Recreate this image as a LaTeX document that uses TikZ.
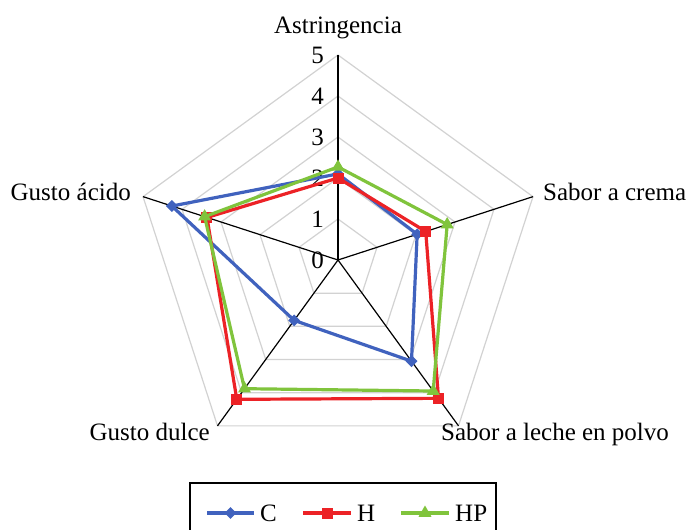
\documentclass[tikz,border=0pt]{standalone}
\usepackage{fontspec}
\setmainfont{Liberation Serif}
\usetikzlibrary{shapes.geometric,calc}
\definecolor{cblue}{RGB}{64,98,190}
\definecolor{hred}{RGB}{236,34,38}
\definecolor{hpgreen}{RGB}{128,196,60}
\definecolor{gridgray}{RGB}{210,210,210}
\tikzset{
  gridring/.style={draw=gridgray, line width=1.2pt},
  axisline/.style={draw=black, line width=1.2pt},
  series/.style={line width=3.2pt, line join=miter},
  cmark/.style={diamond, fill=cblue, inner sep=0pt, minimum size=12pt},
  hmark/.style={rectangle, fill=hred, inner sep=0pt, minimum size=11pt},
  hpmark/.style={regular polygon, regular polygon sides=3, fill=hpgreen, inner sep=0pt, minimum size=15pt},
  lbl/.style={inner sep=0pt},
  tick/.style={inner sep=0pt, anchor=east},
}
\begin{document}
\begin{tikzpicture}[x=1pt,y=1pt,font=\fontsize{25}{30}\selectfont]
\useasboundingbox (0,0) rectangle (697,-530);
\fill[white] (0,0) rectangle (697,-530);
\begin{scope}[shift={(338,-260)}]
  \coordinate (c) at (0,0);
  % grid rings
  \foreach \r in {1,...,5}{
    \draw[gridring] (90:\r*41) -- (18:\r*41) -- (-54:\r*41) -- (-126:\r*41) -- (162:\r*41) -- cycle;
  }
  % axis ends
  \coordinate (a1) at (90:205);
  \coordinate (a2) at (18:205);
  \coordinate (a3) at (-54:205);
  \coordinate (a4) at (-126:205);
  \coordinate (a5) at (162:205);
  \foreach \a in {a1,a2,a3,a4,a5}{\draw[axisline] (c) -- (\a);}
  % tick labels
  \foreach \k in {0,...,5}{\node[tick] (t\k) at (-14,\k*41) {\k};}
  % data C
  \coordinate (c1) at (90:2.1*41);
  \coordinate (c2) at (18:2.03*41);
  \coordinate (c3) at (-54:3.05*41);
  \coordinate (c4) at (-126:1.82*41);
  \coordinate (c5) at (162:4.26*41);
  % data H
  \coordinate (h1) at (90:2.0*41);
  \coordinate (h2) at (18:2.25*41);
  \coordinate (h3) at (-54:4.17*41);
  \coordinate (h4) at (-126:4.2*41);
  \coordinate (h5) at (162:3.36*41);
  % data HP
  \coordinate (p1) at (90:2.27*41);
  \coordinate (p2) at (18:2.8*41);
  \coordinate (p3) at (-54:3.95*41);
  \coordinate (p4) at (-126:3.88*41);
  \coordinate (p5) at (162:3.42*41);
  \draw[series, cblue] (c1) -- (c2) -- (c3) -- (c4) -- (c5) -- cycle;
  \foreach \q in {c1,c2,c3,c4,c5}{\node[cmark] at (\q) {};}
  \draw[series, hred] (h1) -- (h2) -- (h3) -- (h4) -- (h5) -- cycle;
  \foreach \q in {h1,h2,h3,h4,h5}{\node[hmark] at (\q) {};}
  \draw[series, hpgreen] (p1) -- (p2) -- (p3) -- (p4) -- (p5) -- cycle;
  \foreach \q in {p1,p2,p3,p4,p5}{\node[hpmark] at (\q) {};}
\end{scope}
% category labels
\node[lbl, anchor=base] (l1) at (338,-34) {Astringencia};
\node[lbl, anchor=base west] (l2) at (543,-200) {Sabor a crema};
\node[lbl, anchor=base west] (l3) at (441,-440) {Sabor a leche en polvo};
\node[lbl, anchor=base east] (l4) at (210,-440) {Gusto dulce};
\node[lbl, anchor=base east] (l5) at (131,-200) {Gusto ácido};
% legend
\draw[black, line width=1.2pt] (190,-483) rectangle (496,-545);
\coordinate (lc0) at (207,-513); \coordinate (lc1) at (254,-513);
\coordinate (lh0) at (303,-513); \coordinate (lh1) at (351,-513);
\coordinate (lp0) at (401,-513); \coordinate (lp1) at (449,-513);
\draw[series, cblue] (lc0) -- (lc1);
\node[cmark] (mc) at ($(lc0)!0.5!(lc1)$) {};
\draw[series, hred] (lh0) -- (lh1);
\node[hmark] (mh) at ($(lh0)!0.5!(lh1)$) {};
\draw[series, hpgreen] (lp0) -- (lp1);
\node[hpmark] (mp) at ($(lp0)!0.5!(lp1)$) {};
\node[lbl, anchor=base west] (tc) at (260,-521) {C};
\node[lbl, anchor=base west] (th) at (357,-521) {H};
\node[lbl, anchor=base west] (tp) at (455,-521) {HP};
\end{tikzpicture}
\end{document}
